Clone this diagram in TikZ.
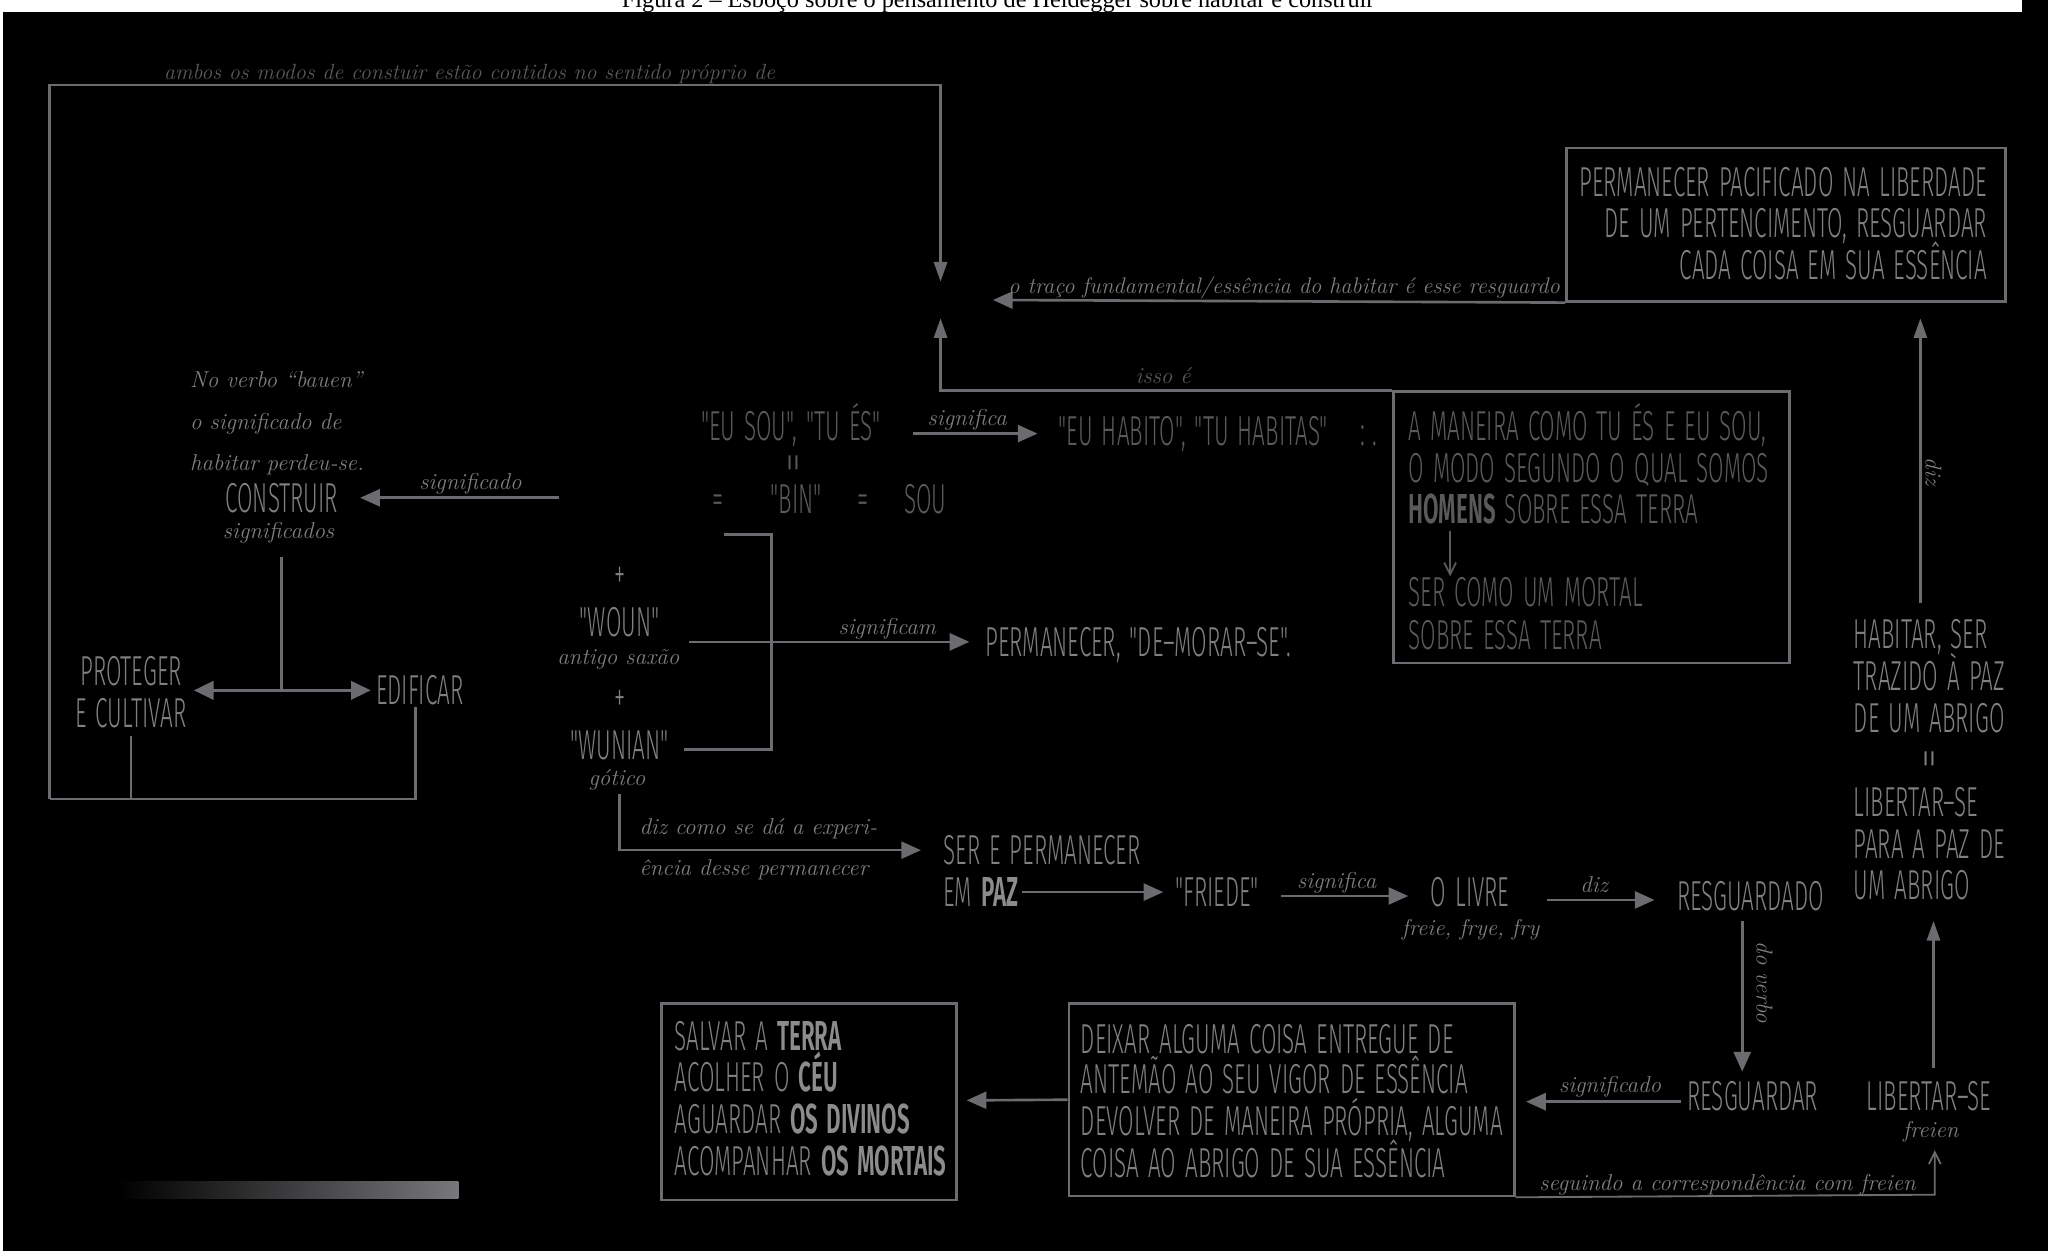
\documentclass[tikz,border=0pt]{standalone}
\usepackage{fontspec}
\usetikzlibrary{arrows.meta}
\newfontfamily\capf[FakeStretch=0.535, WordSpace=1.45, BoldFont={Fira Sans SemiBold}]{Fira Sans Light}
\newfontfamily\eqf{Fira Sans Light}
\newfontfamily\captf{Liberation Serif}
\definecolor{lin}{RGB}{108,108,112}
\definecolor{txt}{RGB}{128,128,132}
\definecolor{dim}{RGB}{90,90,92}
\definecolor{lbl}{RGB}{126,126,130}
\definecolor{brt}{RGB}{140,140,142}
\definecolor{grad}{RGB}{120,120,124}
\newcommand{\bw}[1]{\textcolor{brt}{\bfseries #1}}
\begin{document}
\begin{tikzpicture}[x=1pt,y=-1pt,
  ctx/.style={font=\capf\fontsize{32}{34}\selectfont, text=txt, inner sep=0pt, anchor=base west},
  ctxd/.style={ctx, text=dim},
  eqs/.style={font=\eqf\fontsize{30}{32}\selectfont, text=txt, inner sep=0pt, rotate=90, anchor=center},
  scr/.style={font=\itshape\fontsize{17.5}{19}\selectfont, text=lbl, inner sep=0pt, anchor=base west},
  ln/.style={draw=lin, line width=2pt},
  ar/.style={ln, -{Triangle[length=15pt,width=13pt]}},
  arn/.style={ln, -{Triangle[length=15pt,width=10pt]}},
  ard/.style={ln, {Triangle[length=15pt,width=14pt]}-{Triangle[length=15pt,width=14pt]}},
  thinar/.style={draw=lin, line width=1.4pt, -{Straight Barb[length=9pt,width=9pt]}},
  bx/.style={draw=lin, line width=2pt, inner sep=0pt, anchor=north west},
]
\useasboundingbox (0,0) rectangle (1568,955);
\fill[white] (0,0) rectangle (1568,955);
\node[font=\captf\fontsize{18.5}{20}\selectfont, anchor=base, text=black, inner sep=0pt] (fig) at (762,5.5) {Figura 2 – Esboço sobre o pensamento de Heidegger sobre habitar e construir};
\fill[black] (2.3,9.2) rectangle (1563.5,955);
\fill[black] (1543.5,0) rectangle (1563.5,9.2);

% PERMANECER box
\node[bx, minimum width=335pt, minimum height=117pt] (pbox) at (1195,112) {};
\node[ctx, anchor=base east] (p1) at (1517,150) {PERMANECER PACIFICADO NA LIBERDADE};
\node[ctx, anchor=base east] (p2) at (1517,181.5) {DE UM PERTENCIMENTO, RESGUARDAR};
\node[ctx, anchor=base east] (p3) at (1517,213) {CADA COISA EM SUA ESSÊNCIA};
\coordinate (tr) at (758,229);
\draw[ar] (pbox.south west) -- (tr);
\node[scr, anchor=base east, font=\itshape\fontsize{17.2}{19}\selectfont] (trl) at (1191,224) {o traço fundamental/essência do habitar é esse resguardo};

% HABITAR block
\node[ctx] (h1) at (1415,495) {HABITAR, SER};
\node[ctx] (h2) at (1415,527) {TRAZIDO À PAZ};
\node[ctx] (h3) at (1415,559) {DE UM ABRIGO};
\node[eqs] (h4) at (1476,579) {=};
\node[ctx] (h5) at (1415,623) {LIBERTAR–SE};
\node[ctx] (h6) at (1415,655) {PARA A PAZ DE};
\node[ctx] (h7) at (1415,687) {UM ABRIGO};
\coordinate (hs) at (1466,460);
\coordinate (ht) at (1466,243);
\draw[arn] (hs) -- (ht);
\node[scr, rotate=-90, anchor=center] (dz1) at (1476,360) {diz};

% A MANEIRA box
\node[bx, minimum width=302pt, minimum height=207pt] (mbox) at (1063,298) {};
\node[ctxd] (m1) at (1075,336) {A MANEIRA COMO TU ÉS E EU SOU,};
\node[ctxd] (m2) at (1075,368) {O MODO SEGUNDO O QUAL SOMOS};
\node[ctxd] (m3) at (1075,400) {{\bfseries HOMENS} SOBRE ESSA TERRA};
\coordinate (ma) at (1107,405);
\coordinate (mb) at (1107,440);
\draw[thinar, draw=dim] (ma) -- (mb);
\node[ctxd] (m4) at (1075,463) {SER COMO UM MORTAL};
\node[ctxd] (m5) at (1075,495.5) {SOBRE ESSA TERRA};

% isso e
\coordinate (ic) at (718,298);
\coordinate (it) at (718,243);
\draw[arn] (mbox.north west) -- (ic) -- (it);
\node[scr, text=dim, anchor=base] (isso) at (888,293) {isso é};

% big frame
\coordinate (f1) at (38,610);
\coordinate (f2) at (38,65);
\coordinate (f3) at (718,65);
\coordinate (f4) at (718,215);
\draw[arn] (f1) -- (f2) -- (f3) -- (f4);
\node[scr, text=dim, font=\itshape\fontsize{16.8}{19}\selectfont] (amb) at (125,61) {ambos os modos de constuir estão contidos no sentido próprio de};

% EU SOU
\node[ctxd] (eu) at (535,336) {"EU SOU", "TU ÉS"};
\coordinate (sa) at (697,331);
\coordinate (sb) at (792,331);
\draw[ar] (sa) -- (sb);
\node[scr] (sig1) at (708,325) {significa};
\node[ctxd] (hab) at (808,340) {"EU HABITO", "TU HABITAS"};
\node[ctxd] (thf) at (1038,340) {:\hspace{6pt}.};
\node[eqs, text=dim] (eq0) at (609,353) {=};
\node[ctxd, anchor=base] (eq1) at (548,392) {=};
\node[ctxd] (bin) at (588,392) {"BIN"};
\node[ctxd, anchor=base] (eq2) at (659,392) {=};
\node[ctxd] (sou) at (690,392) {SOU};

% CONSTRUIR
\node[ctx] (con) at (172,391) {CONSTRUIR};
\coordinate (cs) at (427,380);
\coordinate (ct) at (275,380);
\draw[ar] (cs) -- (ct);
\node[scr] (sig2) at (320,374) {significado};
\node[scr] (nv1) at (145,296) {No verbo “bauen”};
\node[scr] (nv2) at (145,328) {o significado de};
\node[scr] (nv3) at (145,359) {habitar perdeu-se.};
\node[scr] (sigs) at (170,411) {significados};

% PROTEGER / EDIFICAR
\node[ctx, anchor=base] (pr1) at (100,523) {PROTEGER};
\node[ctx, anchor=base] (pr2) at (100,555) {E CULTIVAR};
\node[ctx] (edi) at (287,538) {EDIFICAR};
\coordinate (c1) at (215,425);
\coordinate (c2) at (215,527);
\coordinate (dl) at (148,527);
\coordinate (dr) at (283,527);
\draw[ln] (c1) -- (c2);
\draw[ard] (dl) -- (dr);
\coordinate (pb) at (100,562);
\coordinate (pbb) at (100,610);
\coordinate (eb) at (317,540);
\coordinate (ebb) at (317,610);
\draw[ln] (pb) -- (pbb);
\draw[ln] (eb) -- (ebb) -- (f1);

% WOUN / WUNIAN
\node[ctx, anchor=base] (pl1) at (473,449) {+};
\node[ctx, anchor=base] (wo) at (473,486) {"WOUN"};
\node[scr, anchor=base] (as) at (472,507) {antigo saxão};
\node[ctx, anchor=base] (pl2) at (473,543) {+};
\node[ctx, anchor=base] (wu) at (473,580) {"WUNIAN"};
\node[scr, anchor=base] (go) at (471,600) {gótico};
\coordinate (b1) at (553,408);
\coordinate (b2) at (589,408);
\coordinate (b3) at (589,572);
\coordinate (b4) at (522,572);
\draw[ln] (b1) -- (b2) -- (b3) -- (b4);
\coordinate (wa) at (526,490);
\coordinate (wb) at (740,490);
\draw[ar] (wa) -- (wb);
\node[scr] (sigm) at (640,484) {significam};
\node[ctx] (perm) at (752,501) {PERMANECER, "DE–MORAR–SE".};

% gotico path
\coordinate (g1) at (473,606);
\coordinate (g2) at (473,649);
\coordinate (g3) at (703,649);
\draw[ar] (g1) -- (g2) -- (g3);
\node[scr] (dz2) at (488,637) {diz como se dá a experi-};
\node[scr] (dz3) at (488,668) {ência desse permanecer};

% middle row
\node[ctx] (sp1) at (720,660) {SER E PERMANECER};
\node[ctx] (sp2) at (720,692) {EM \bw{PAZ}};
\coordinate (pa) at (780,681);
\coordinate (pt) at (888,681);
\draw[ar] (pa) -- (pt);
\node[ctx] (fr) at (897,692) {"FRIEDE"};
\coordinate (fa) at (978,684);
\coordinate (fb) at (1075,684);
\draw[ar] (fa) -- (fb);
\node[scr] (sig3) at (990,678) {significa};
\node[ctx] (liv) at (1092,692) {O LIVRE};
\node[scr] (frf) at (1070,714) {freie, frye, fry};
\coordinate (la) at (1181,687);
\coordinate (lb) at (1263,687);
\draw[ar] (la) -- (lb);
\node[scr, anchor=base] (dz4) at (1217,681) {diz};
\node[ctx] (rdo) at (1280,695) {RESGUARDADO};
\coordinate (ra) at (1330,703);
\coordinate (rb) at (1330,818);
\draw[ar] (ra) -- (rb);
\node[scr, rotate=-90, anchor=center] (dov) at (1347,750) {do verbo};
\node[ctx] (rdr) at (1288,848) {RESGUARDAR};
\coordinate (rc) at (1283,841);
\coordinate (rd) at (1165,841);
\draw[ar] (rc) -- (rd);
\node[scr] (sig4) at (1190,834) {significado};

% LIBERTAR-SE
\node[ctx] (lib) at (1425,848) {LIBERTAR–SE};
\node[scr, anchor=base] (frn) at (1474,868) {freien};
\coordinate (lu) at (1476,815);
\coordinate (lt) at (1476,703);
\draw[arn] (lu) -- (lt);

% DEIXAR box
\node[bx, minimum width=340pt, minimum height=147pt] (dbox) at (815,765) {};
\node[ctx] (d1) at (825,804) {DEIXAR ALGUMA COISA ENTREGUE DE};
\node[ctx] (d2) at (825,835) {ANTEMÃO AO SEU VIGOR DE ESSÊNCIA};
\node[ctx] (d3) at (825,867) {DEVOLVER DE MANEIRA PRÓPRIA, ALGUMA};
\node[ctx] (d4) at (825,899) {COISA AO ABRIGO DE SUA ESSÊNCIA};
\coordinate (s1) at (1477,912);
\coordinate (s2) at (1477,878);
\draw[thinar] (dbox.south east) -- (s1) -- (s2);
\node[scr] (seg) at (1175,909) {seguindo a correspondência com freien};
\coordinate (dt) at (738,840);
\draw[ar] (dbox.west) -- (dt);

% SALVAR box
\node[bx, minimum width=225pt, minimum height=150pt] (sbox) at (504,765) {};
\node[ctx] (v1) at (515,802) {SALVAR A \bw{TERRA}};
\node[ctx] (v2) at (515,833) {ACOLHER O \bw{CÉU}};
\node[ctx] (v3) at (515,865) {AGUARDAR \bw{OS DIVINOS}};
\node[ctx] (v4) at (515,897) {ACOMPANHAR \bw{OS MORTAIS}};

% gradient bar
\shade[left color=black, right color=grad] (90,902) rectangle (350,915);
\end{tikzpicture}
\end{document}
